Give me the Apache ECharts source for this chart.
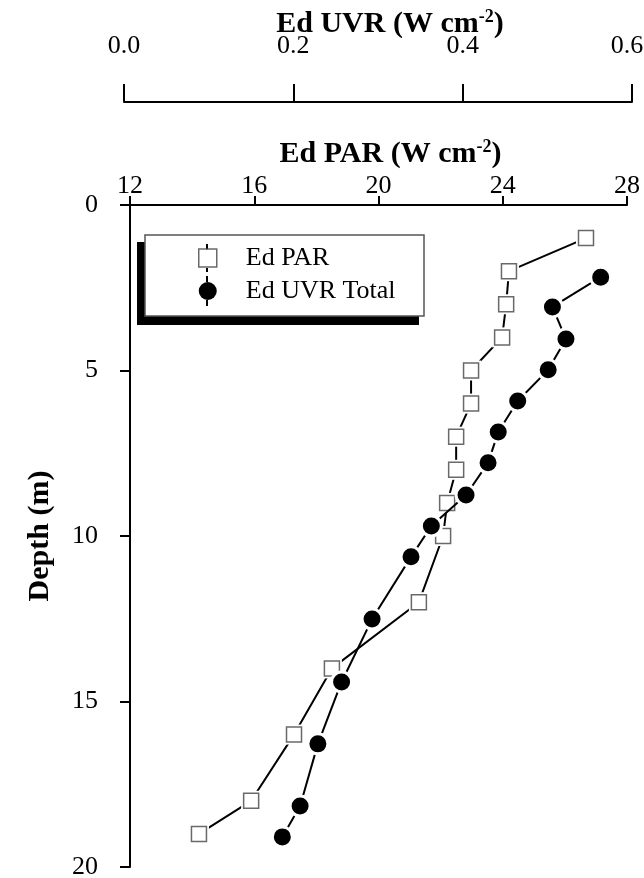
<!DOCTYPE html>
<html>
<head>
<meta charset="utf-8">
<script src="https://cdn.jsdelivr.net/npm/echarts@6/dist/echarts.min.js"></script>
<style>
  html, body { margin: 0; padding: 0; background: #fff; }
  #chart { width: 644px; height: 878px; }
</style>
</head>
<body>
<div id="chart"></div>
<script>
  // Ed PAR profile (squares), PAR axis
  var parDepth = [1, 2, 3, 4, 5, 6, 7, 8, 9, 10, 12, 14, 16, 18, 19];
  var parValue = [26.68, 24.2, 24.11, 23.98, 22.98, 22.98, 22.5, 22.5, 22.21, 22.08, 21.3, 18.5, 17.28, 15.9, 14.22];
  // Ed UVR total profile (circles), UVR axis
  var uvrDepth = [2.18, 3.08, 4.05, 4.98, 5.92, 6.86, 7.79, 8.76, 9.7, 10.63, 12.51, 14.41, 16.28, 18.16, 19.09];
  var uvrValue = [0.563, 0.506, 0.522, 0.501, 0.465, 0.442, 0.43, 0.404, 0.363, 0.339, 0.293, 0.257, 0.229, 0.208, 0.187];
  var parTicks = [12, 28, 4];
  var uvrTicks = [0, 0.6, 0.2];
  var depthTicks = [0, 20, 5];

  var font = 'Liberation Serif';

  function pairs(xs, ys) {
    return xs.map(function (x, i) { return [x, ys[i]]; });
  }

  var chart = echarts.init(document.getElementById('chart'));

  var axisLine = { show: true, onZero: false, lineStyle: { color: '#000', width: 2 } };
  var labelStyle = { color: '#000', fontFamily: font, fontSize: 26 };
  var nameStyle = {
    color: '#000', fontFamily: font, fontSize: 30, fontWeight: 'bold',
    padding: [0, 0, 0, 24],
    rich: {
      sup: { fontFamily: font, fontSize: 18, fontWeight: 'bold', color: '#000', verticalAlign: 'bottom', padding: [0, 0, 14, 0] }
    }
  };

  chart.setOption({
    backgroundColor: '#fff',
    animation: false,
    grid: [
      // main plot, PAR axis on top
      { left: 130, top: 205, width: 497, height: 662, outerBoundsMode: 'none', containLabel: false },
      // UVR axis only
      { left: 124, top: 102, width: 508, height: 10, outerBoundsMode: 'none', containLabel: false },
      // UVR data area
      { left: 124, top: 205, width: 508, height: 662, outerBoundsMode: 'none', containLabel: false }
    ],
    xAxis: [{
      gridIndex: 0,
      type: 'value',
      position: 'top',
      min: parTicks[0], max: parTicks[1], interval: parTicks[2],
      name: 'Ed PAR (W cm{sup|-2})',
      nameLocation: 'middle',
      nameGap: 35,
      nameMoveOverlap: false,
      nameTextStyle: nameStyle,
      axisLine: axisLine,
      axisTick: { show: true, length: 9, lineStyle: { color: '#000', width: 2 } },
      axisLabel: Object.assign({ margin: 6 }, labelStyle),
      splitLine: { show: false }
    }, {
      gridIndex: 1,
      type: 'value',
      position: 'top',
      min: uvrTicks[0], max: uvrTicks[1], interval: uvrTicks[2],
      name: 'Ed UVR (W cm{sup|-2})',
      nameLocation: 'middle',
      nameGap: 62,
      nameMoveOverlap: false,
      nameTextStyle: nameStyle,
      axisLine: axisLine,
      axisTick: { show: true, length: 18, lineStyle: { color: '#000', width: 2 } },
      axisLabel: Object.assign({
        margin: 43,
        formatter: function (v) {
          return v === uvrTicks[1] ? '{r|' + v.toFixed(1) + '}' : v.toFixed(1);
        },
        rich: { r: { fontFamily: font, fontSize: 26, color: '#000', padding: [0, 10, 0, 0] } }
      }, labelStyle),
      splitLine: { show: false }
    }, {
      gridIndex: 2,
      type: 'value',
      show: false,
      min: uvrTicks[0], max: uvrTicks[1]
    }],
    yAxis: [{
      gridIndex: 0,
      type: 'value',
      inverse: true,
      min: depthTicks[0], max: depthTicks[1], interval: depthTicks[2],
      name: 'Depth (m)',
      nameLocation: 'middle',
      nameRotate: 90,
      nameGap: 75,
      nameMoveOverlap: false,
      nameTextStyle: Object.assign({}, nameStyle, { padding: 0 }),
      axisLine: axisLine,
      axisTick: { show: true, length: 10, lineStyle: { color: '#000', width: 2 } },
      axisLabel: Object.assign({ margin: 32 }, labelStyle),
      splitLine: { show: false }
    }, {
      gridIndex: 1,
      type: 'value',
      show: false
    }, {
      gridIndex: 2,
      type: 'value',
      inverse: true,
      show: false,
      min: depthTicks[0], max: depthTicks[1]
    }],
    legend: {
      orient: 'vertical',
      left: 198,
      top: 245,
      padding: 0,
      itemWidth: 18,
      itemHeight: 18,
      itemGap: 7,
      z: 5,
      textStyle: { color: '#000', fontFamily: font, fontSize: 26, padding: [0, 0, 0, 24] },
      data: [
        { name: 'Ed PAR', icon: 'rect', itemStyle: { color: '#fff', borderColor: '#444', borderWidth: 1.5 } },
        { name: 'Ed UVR Total', icon: 'circle', itemStyle: { color: '#000', borderWidth: 0 } }
      ]
    },
    graphic: [
      { type: 'rect', z: 1, shape: { x: 137, y: 242, width: 282, height: 83 }, style: { fill: '#000' } },
      { type: 'rect', z: 2, shape: { x: 145, y: 235, width: 279, height: 81 }, style: { fill: '#fff', stroke: '#555', lineWidth: 1.5 } },
      { type: 'line', z: 3, shape: { x1: 207, y1: 244, x2: 207, y2: 250 }, style: { stroke: '#000', lineWidth: 2 } },
      { type: 'line', z: 3, shape: { x1: 207, y1: 268, x2: 207, y2: 272 }, style: { stroke: '#000', lineWidth: 2 } },
      { type: 'line', z: 3, shape: { x1: 207, y1: 276, x2: 207, y2: 282 }, style: { stroke: '#000', lineWidth: 2 } },
      { type: 'line', z: 3, shape: { x1: 207, y1: 300, x2: 207, y2: 306 }, style: { stroke: '#000', lineWidth: 2 } }
    ],
    series: [{
      // line with white square halos, gives the gap round each marker
      name: 'Ed PAR line',
      type: 'line',
      xAxisIndex: 0, yAxisIndex: 0,
      data: pairs(parValue, parDepth),
      symbol: 'rect',
      symbolSize: 20,
      itemStyle: { color: '#fff', borderWidth: 0 },
      lineStyle: { color: '#000', width: 2 },
      z: 2
    }, {
      name: 'Ed PAR',
      type: 'scatter',
      xAxisIndex: 0, yAxisIndex: 0,
      data: pairs(parValue, parDepth),
      symbol: 'rect',
      symbolSize: 15,
      itemStyle: { color: '#fff', borderColor: '#444', borderWidth: 1.5 },
      z: 3
    }, {
      name: 'Ed UVR Total',
      type: 'line',
      xAxisIndex: 2, yAxisIndex: 2,
      data: pairs(uvrValue, uvrDepth),
      symbol: 'circle',
      symbolSize: 20,
      showAllSymbol: true,
      itemStyle: { color: '#000', borderColor: '#fff', borderWidth: 3 },
      lineStyle: { color: '#000', width: 2 },
      z: 4
    }]
  });
</script>
</body>
</html>
